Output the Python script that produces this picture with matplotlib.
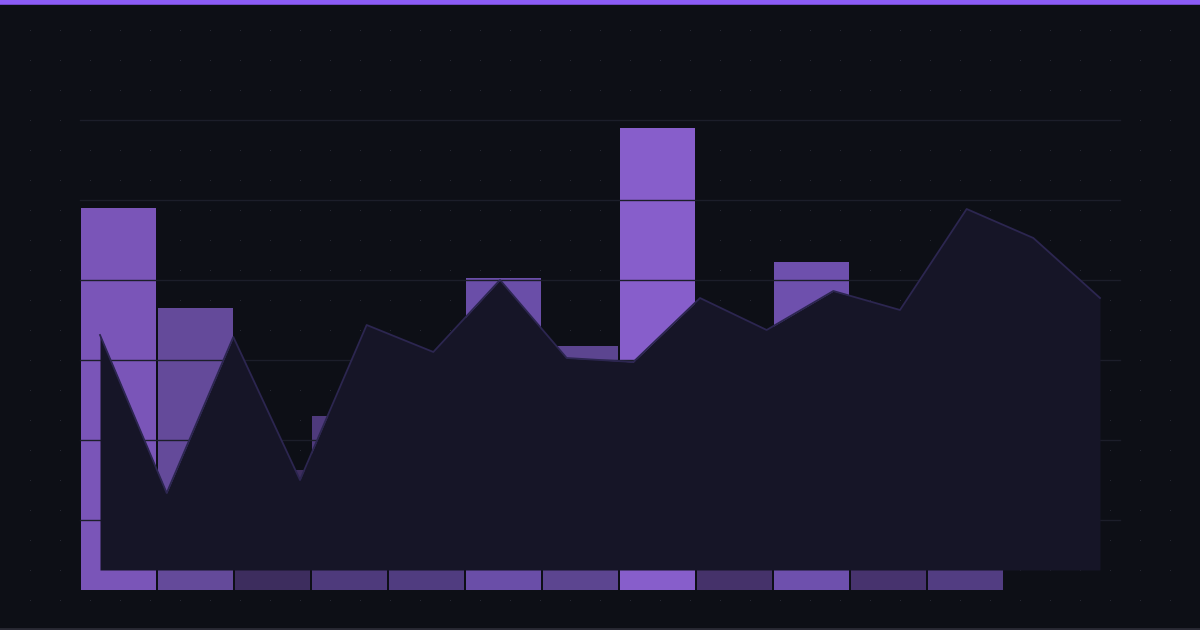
import matplotlib
matplotlib.use("Agg")
import matplotlib.pyplot as plt
import numpy as np

bar_values = [95.5, 70.5, 30, 43.5, 40, 78, 61, 115.5, 50, 82, 45, 55]
bar_colors = ["#7a55b8", "#644a9a", "#3d2d5e", "#4e3a7c", "#503c80", "#6a4ea8",
              "#5c4590", "#875ecb", "#45326a", "#6e50ad", "#47336e", "#523d82"]
area_values = [63.75, 24.25, 63.25, 27.5, 66.25, 59.5, 77.5, 58, 57, 73, 65, 74.75,
               70, 95.25, 88, 73]
grid_levels = [17.5, 37.5, 57.5, 77.5, 97.5, 117.5]

BG = "#0d0f16"
fig = plt.figure(figsize=(12, 6.3), dpi=100, facecolor=BG)

# dotted background
bg = fig.add_axes([0, 0, 1, 1])
bg.set_xlim(0, 1200); bg.set_ylim(630, 0); bg.axis("off")
gx, gy = np.meshgrid(np.arange(30, 1200, 30), np.arange(30, 630, 30))
bg.scatter(gx.ravel(), gy.ravel(), s=0.6, color="#2a2d38", lw=0)
bg.axhline(2, color="#8b5cf6", lw=4)
bg.axhline(628.5, color="#2a2a35", lw=2)

ax = fig.add_axes([0, 0, 1, 1])
ax.patch.set_alpha(0)
ax.set_xlim(-118.5 / 77, (1200 - 118.5) / 77)
ax.set_ylim(-10, 147.5)
ax.axis("off")

x = np.arange(len(bar_values))
ax.bar(x, bar_values, width=75 / 77, color=bar_colors, zorder=1)
for g in grid_levels:
    ax.plot([-38.5 / 77, (1120 - 118.5) / 77], [g, g], color="#1c1e2a", lw=1, zorder=2)

ax_x = np.linspace((100 - 118.5) / 77, (1100 - 118.5) / 77, len(area_values))
ax.fill_between(ax_x, 5, area_values, color="#161527", zorder=3, lw=0)
ax.plot(ax_x, area_values, color="#2c2650", lw=1.3, zorder=4)

fig.savefig("out.png", dpi=100, facecolor=BG)
